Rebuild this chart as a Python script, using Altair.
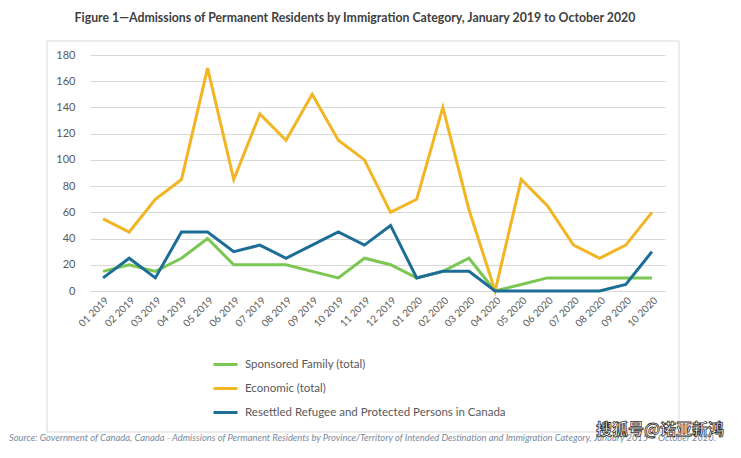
import altair as alt
import pandas as pd

months = ["01 2019", "02 2019", "03 2019", "04 2019", "05 2019", "06 2019",
          "07 2019", "08 2019", "09 2019", "10 2019", "11 2019", "12 2019",
          "01 2020", "02 2020", "03 2020", "04 2020", "05 2020", "06 2020",
          "07 2020", "08 2020", "09 2020", "10 2020"]
sponsored = [15, 20, 15, 25, 40, 20, 20, 20, 15, 10, 25, 20, 10, 15, 25, 0, 5, 10, 10, 10, 10, 10]
economic = [55, 45, 70, 85, 170, 85, 135, 115, 150, 115, 100, 60, 70, 140, 62, 0, 85, 65, 35, 25, 35, 60]
refugee = [10, 25, 10, 45, 45, 30, 35, 25, 35, 45, 35, 50, 10, 15, 15, 0, 0, 0, 0, 0, 5, 30]
series_names = ["Sponsored Family (total)", "Economic (total)",
                "Resettled Refugee and Protected Persons in Canada"]
colors = ["#7cc653", "#f2b523", "#1c6e96"]
y_ticks = [0, 20, 40, 60, 80, 100, 120, 140, 160, 180]

title_text = "Figure 1\u2014Admissions of Permanent Residents by Immigration Category, January 2019 to October 2020"
source_text = ("Source: Government of Canada, Canada - Admissions of Permanent Residents by Province/Territory "
               "of Intended Destination and Immigration Category, January 2015 \u2013 October 2020.")
watermark_text = "搜狐号@诺亚新鸿"

rows = []
for name, vals in zip(series_names, [sponsored, economic, refugee]):
    for i, (m, v) in enumerate(zip(months, vals)):
        rows.append({"month": m, "idx": i, "value": v, "series": name})
df = pd.DataFrame(rows)

GRID = "#d9d9d9"
LABEL = "#595959"
FONT = "Lato"

lines = alt.Chart(df).mark_line(strokeWidth=3).encode(
    x=alt.X("month:O", sort=months, scale=alt.Scale(type="point", padding=0.5),
            axis=alt.Axis(title=None, labelAngle=-45, ticks=False, grid=False,
                          domainColor=GRID, labelColor=LABEL, labelFontSize=10,
                          labelFont=FONT, labelPadding=4)),
    y=alt.Y("value:Q", scale=alt.Scale(domain=[0, 180]),
            axis=alt.Axis(title=None, values=y_ticks, domain=False, ticks=False,
                          grid=True, gridColor=GRID, labelColor=LABEL,
                          labelFontSize=11, labelFont=FONT, labelPadding=15)),
    color=alt.Color("series:N", sort=series_names,
                    scale=alt.Scale(domain=series_names, range=colors),
                    legend=alt.Legend(title=None, orient="none", legendX=122, legendY=296,
                                      direction="vertical", symbolType="stroke",
                                      symbolSize=576, symbolStrokeWidth=3,
                                      labelFontSize=11.5, labelColor=LABEL, labelFont=FONT,
                                      rowPadding=4, labelOffset=6, labelLimit=400)),
    order=alt.Order("idx:Q"),
)

one = pd.DataFrame({"a": [0]})

box = alt.Chart(one).mark_rect(fillOpacity=0, stroke=GRID, strokeWidth=1).encode(
    x=alt.value(-43), x2=alt.value(589), y=alt.value(-14), y2=alt.value(377))

title = alt.Chart(one).mark_text(text=title_text, font=FONT, fontSize=12.3, fontWeight="bold",
                                 color="#404040", align="center", baseline="middle").encode(
    x=alt.value(265), y=alt.value(-37))

source = alt.Chart(one).mark_text(text=source_text, font=FONT, fontSize=9.4, fontStyle="italic",
                                  color="#7a8aa0", align="left", baseline="middle").encode(
    x=alt.value(-81), y=alt.value(383))

watermark = alt.Chart(one).mark_text(text=watermark_text, font="Noto Sans CJK SC", fontSize=16,
                                     fontWeight="bold", color="white", stroke="#333333",
                                     strokeWidth=0.8, align="center", baseline="middle").encode(
    x=alt.value(570), y=alt.value(375))

chart = alt.layer(box, lines, title, source, watermark).properties(
    width=575, height=236,
    padding={"left": 82, "top": 47, "right": 68, "bottom": 153},
    autosize="none",
    background="white",
).configure_view(stroke=None)

chart.save("out.html", embed_options={"renderer": "svg", "actions": False})
